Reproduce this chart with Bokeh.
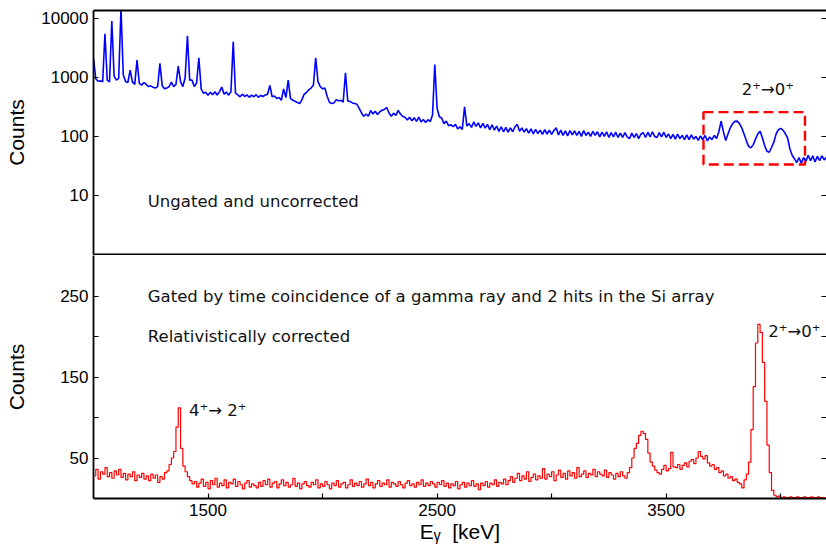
from bokeh.plotting import figure
from bokeh.layouts import column
from bokeh.models import (Range1d, LinearAxis, LogAxis, FixedTicker, Label,
                          BoxAnnotation, BasicTickFormatter)
from bokeh.embed import file_html
from bokeh.resources import INLINE

# ---------------- data ----------------
X_START, X_END = 1000, 4200

# ungated spectrum, 10 keV grid starting at 1000 keV
top_start_kev = 1000
top_bin_kev = 10
top_counts = [
    2100, 950, 860, 880, 840, 5480, 900, 840, 9000, 1050,      # 1000
    900, 960, 15000, 1100, 850, 820, 1330, 840, 760, 1960,     # 1100
    790, 740, 820, 760, 700, 720, 680, 660, 700, 1725,         # 1200
    720, 640, 660, 700, 830, 700, 760, 1555, 850, 700,         # 1300
    980, 5070, 900, 900, 700, 800, 2150, 640, 540, 560,        # 1400
    500, 560, 510, 570, 505, 575, 685, 520, 565, 500,          # 1500
    575, 4010, 540, 505, 470, 520, 475, 505, 460, 500,         # 1600
    470, 510, 460, 495, 475, 505, 520, 730, 470, 485,          # 1700
    440, 455, 410, 640, 455, 900, 440, 410, 395, 375,          # 1800
    360, 420, 520, 560, 620, 660, 740, 2150, 850, 700,         # 1900
    640, 660, 480, 380, 360, 370, 420, 400, 410, 380,          # 2000
    1197, 400, 390, 370, 360, 350, 300, 250, 220, 240,         # 2100
    220, 275, 240, 268, 236, 262, 278, 286, 310, 250,          # 2200
    220, 248, 226, 276, 240, 218, 212, 190, 212, 184,          # 2300
    208, 180, 212, 176, 194, 172, 192, 178, 230, 1660,         # 2400
    300, 215, 205, 165, 182, 152, 158, 146, 160, 134,          # 2500
    145, 132, 318, 150, 165, 142, 176, 148, 170, 140,          # 2600
    166, 138, 160, 130, 158, 128, 150, 122, 146, 120,          # 2700
    142, 118, 140, 120, 146, 160, 122, 140, 118, 136,          # 2800
    114, 134, 110, 132, 112, 128, 108, 130, 110, 128,          # 2900
    108, 126, 140, 106, 128, 104, 124, 102, 126, 106,          # 3000
    124, 104, 122, 100, 126, 104, 118, 100, 122, 104,          # 3100
    120, 98, 118, 100, 120, 96, 116, 98, 118, 96,              # 3200
    114, 96, 116, 98, 92, 114, 96, 112, 92, 110,               # 3300
    116, 96, 118, 98, 120, 100, 96, 116, 98, 118,              # 3400
    96, 110, 92, 108, 90, 110, 92, 104, 88, 106,               # 3500
    88, 106, 90, 100, 86, 102, 88, 104, 84, 98,                # 3600
    88, 104, 92, 120, 182, 120, 85, 110, 140, 165,             # 3700
    180, 182, 165, 140, 110, 85, 68, 64, 72, 90,               # 3800
    110, 123, 95, 70, 56, 54, 65, 80, 110, 130,                # 3900
    137, 128, 112, 95, 62, 48, 42, 36, 44, 35,                 # 4000
    44, 38, 48, 39, 47, 37, 46, 39, 47, 40,                    # 4100
    45,                                                        # 4200
]
top_energy = [top_start_kev + top_bin_kev * i for i in range(len(top_counts))]

# gated, Doppler corrected spectrum, 10 keV bins, centres from 1005 keV
bot_first_centre = 1005
bot_bin_kev = 10
bot_counts = [
    28, 36, 24, 33, 30, 38, 27, 32, 25, 34,      # 1000
    29, 36, 26, 31, 23, 30, 27, 33, 22, 29,      # 1100
    26, 31, 24, 28, 22, 30, 25, 29, 20, 27,      # 1200
    24, 32, 34, 42, 50, 58, 88, 112, 62, 40,     # 1300
    33, 27, 22, 18, 21, 14, 19, 24, 15, 20,      # 1400
    12, 22, 17, 25, 14, 19, 16, 23, 13, 20,      # 1500
    18, 24, 15, 21, 17, 12, 19, 22, 14, 18,      # 1600
    16, 13, 20, 15, 22, 17, 24, 14, 19, 21,      # 1700
    13, 18, 23, 16, 20, 14, 17, 25, 15, 19,      # 1800
    12, 18, 21, 16, 14, 20, 17, 23, 13, 18,      # 1900
    15, 21, 17, 12, 19, 16, 22, 14, 18, 20,      # 2000
    13, 17, 23, 15, 19, 16, 21, 14, 18, 24,      # 2100
    16, 20, 13, 18, 22, 15, 19, 17, 23, 14,      # 2200
    20, 18, 15, 21, 17, 13, 19, 22, 16, 18,      # 2300
    14, 20, 17, 23, 15, 19, 16, 21, 18, 14,      # 2400
    20, 17, 22, 15, 19, 13, 18, 16, 21, 12,      # 2500
    17, 20, 14, 19, 16, 22, 15, 18, 11, 19,      # 2600
    16, 21, 14, 19, 17, 23, 15, 20, 18, 24,      # 2700
    17, 22, 27, 20, 25, 31, 22, 28, 24, 33,      # 2800
    21, 26, 30, 23, 28, 25, 37, 24, 30, 27,      # 2900
    33, 22, 29, 35, 26, 31, 24, 34, 28, 32,      # 3000
    25, 38, 27, 30, 34, 26, 31, 29, 36, 27,      # 3100
    33, 30, 28, 35, 26, 32, 29, 24, 31, 27,      # 3200
    33, 28, 25, 32, 38, 50, 62, 68, 78, 83,      # 3300
    80, 73, 56, 45, 40, 35, 32, 30, 36, 41,      # 3400
    34, 37, 57, 39, 38, 42, 36, 41, 44, 39,      # 3500
    46, 48, 43, 50, 58, 52, 49, 53, 44, 40,      # 3600
    42, 36, 38, 32, 34, 28, 30, 25, 27, 22,      # 3700
    24, 20, 18, 13, 23, 30, 45, 85, 138, 192,    # 3800
    215, 205, 168, 120, 66, 32, 10, 4, 2, 3,     # 3900
    1, 2, 1, 1, 2, 1, 1, 2, 1, 1,                # 4000
    2, 1, 1, 2, 1, 1, 2, 1, 1, 1,                # 4100
]
bot_energy = [bot_first_centre + bot_bin_kev * i for i in range(len(bot_counts))]

top_y_ticks = [10, 100, 1000, 10000]
top_y_ticks_right = [1, 10, 100, 1000, 10000]
bot_y_ticks = [50, 100, 150, 200, 250]
bot_y_hidden = {100: "", 200: ""}
x_ticks = [1500, 2000, 2500, 3000, 3500, 4000]
x_hidden = {2000: "", 3000: "", 4000: ""}

# ---------------- styling helpers ----------------
TICK_FONT = "Liberation Sans"
ANN_FONT = "DejaVu Sans"


def style(ax, line=True):
    ax.major_tick_in = 5
    ax.major_tick_out = 0
    ax.minor_tick_in = 0
    ax.minor_tick_out = 0
    ax.major_tick_line_width = 1.2
    ax.major_tick_line_color = "black"
    ax.axis_line_width = 1.8
    ax.axis_line_color = "black" if line else None
    ax.major_label_text_font = TICK_FONT
    ax.major_label_text_font_size = "17px"
    ax.major_label_text_color = "black"
    ax.axis_label_text_font = TICK_FONT
    ax.axis_label_text_font_size = "21px"
    ax.axis_label_text_font_style = "normal"
    ax.axis_label_text_color = "black"
    return ax


def bare(ax, ticks):
    # an axis that only shows its line and/or inward ticks, no labels
    ax.major_label_overrides = {t: "" for t in ticks}
    ax.major_label_text_font_size = "1px"
    ax.major_label_text_color = None
    ax.major_label_standoff = 0
    return ax


x_range = Range1d(X_START, X_END)

# ---------------- top panel ----------------
top = figure(width=826, height=255, x_range=x_range, y_range=Range1d(1, 13600),
             y_axis_type="log", x_axis_location=None, y_axis_location=None,
             output_backend="svg", toolbar_location=None,
             min_border_left=93, min_border_right=0, min_border_top=10,
             min_border_bottom=1)
top.outline_line_color = None
top.xgrid.grid_line_color = None
top.ygrid.grid_line_color = None

tl = style(LogAxis(ticker=FixedTicker(ticks=top_y_ticks, minor_ticks=[]),
                   formatter=BasicTickFormatter(use_scientific=False),
                   axis_label="Counts", axis_label_standoff=10))
top.add_layout(tl, "left")
tr = bare(style(LogAxis(ticker=FixedTicker(ticks=top_y_ticks_right, minor_ticks=[])), line=False),
          top_y_ticks_right)
top.add_layout(tr, "right")
ta = style(LinearAxis(ticker=FixedTicker(ticks=[X_START], minor_ticks=[])))
ta.major_tick_in = 0
top.add_layout(bare(ta, [X_START]), "above")
tb = style(LinearAxis(ticker=FixedTicker(ticks=[X_START], minor_ticks=[])))
tb.major_tick_in = 0
top.add_layout(bare(tb, [X_START]), "below")

top.line(top_energy, top_counts, line_color="#0000ff", line_width=1.6)

top.add_layout(BoxAnnotation(left=3663, right=4106, bottom=33.5, top=258,
                             fill_color=None, fill_alpha=0, line_color="#ff0000",
                             line_alpha=1.0, line_width=2.4, line_dash="10 5"))
top.add_layout(Label(x=1237, y=7.9, text="Ungated and uncorrected",
                     text_font=ANN_FONT, text_font_size="16.5px",
                     text_baseline="alphabetic", text_color="#111111"))
top.add_layout(Label(x=3830, y=627, text="2\u207a\u21920\u207a",
                     text_font=ANN_FONT, text_font_size="16.5px",
                     text_baseline="alphabetic", text_color="#111111"))

# ---------------- bottom panel ----------------
bot = figure(width=826, height=295, x_range=x_range, y_range=Range1d(0, 300),
             x_axis_location=None, y_axis_location=None,
             output_backend="svg", toolbar_location=None,
             min_border_left=93, min_border_right=0, min_border_top=0,
             min_border_bottom=52)
bot.outline_line_color = None
bot.xgrid.grid_line_color = None
bot.ygrid.grid_line_color = None

bl = style(LinearAxis(ticker=FixedTicker(ticks=bot_y_ticks, minor_ticks=[]),
                      major_label_overrides=bot_y_hidden,
                      axis_label="Counts", axis_label_standoff=29))
bot.add_layout(bl, "left")
br = bare(style(LinearAxis(ticker=FixedTicker(ticks=bot_y_ticks, minor_ticks=[])), line=False),
          bot_y_ticks)
bot.add_layout(br, "right")
bx = style(LinearAxis(ticker=FixedTicker(ticks=x_ticks, minor_ticks=[]),
                      major_label_overrides=x_hidden, major_label_standoff=5,
                      axis_label="E\u1d67\u00a0\u00a0[keV]", axis_label_standoff=1))
bot.add_layout(bx, "below")

bot.step(bot_energy, bot_counts, mode="center", line_color="#ff0000", line_width=1.2)

for txt, xx, yy in [("Gated by time coincidence of a gamma ray and 2 hits in the Si array", 1237, 250),
                    ("Relativistically corrected", 1237, 200),
                    ("4\u207a\u2192 2\u207a", 1417, 109),
                    ("2\u207a\u21920\u207a", 3946, 206)]:
    bot.add_layout(Label(x=xx, y=yy, text=txt, text_font=ANN_FONT, text_font_size="16.5px",
                         text_baseline="alphabetic", text_color="#111111"))

layout = column(top, bot, spacing=0)
open("out.html", "w").write(file_html(layout, INLINE))
